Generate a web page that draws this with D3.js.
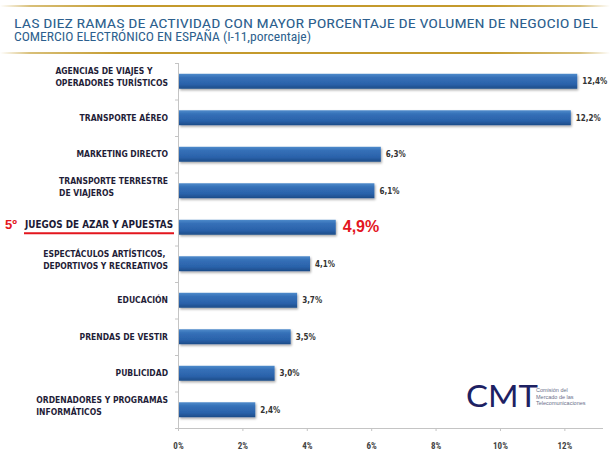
<!DOCTYPE html>
<html><head><meta charset="utf-8">
<script src="https://cdn.jsdelivr.net/npm/d3@7"></script>
<style>
html,body{margin:0;padding:0;background:#fff;}
svg{display:block;}
</style></head>
<body>
<script>
const titleLines = ["LAS DIEZ RAMAS DE ACTIVIDAD CON MAYOR PORCENTAJE DE VOLUMEN DE NEGOCIO DEL",
                    "COMERCIO ELECTRÓNICO EN ESPAÑA (I-11,porcentaje)"];
const categories = [
  ["AGENCIAS DE VIAJES Y","OPERADORES TURÍSTICOS"],
  ["TRANSPORTE AÉREO"],
  ["MARKETING DIRECTO"],
  ["TRANSPORTE TERRESTRE","DE VIAJEROS"],
  ["JUEGOS DE AZAR Y APUESTAS"],
  ["ESPECTÁCULOS ARTÍSTICOS,","DEPORTIVOS Y RECREATIVOS"],
  ["EDUCACIÓN"],
  ["PRENDAS DE VESTIR"],
  ["PUBLICIDAD"],
  ["ORDENADORES Y PROGRAMAS","INFORMÁTICOS"]
];
const values = [12.4,12.2,6.3,6.1,4.9,4.1,3.7,3.5,3.0,2.4];
const tickValues = [0,2,4,6,8,10,12];
const highlightIndex = 4;
const highlightRank = "5º";
const logoText = "CMT";
const logoSub = ["Comisión del","Mercado de las","Telecomunicaciones"];

const W=610,H=460;
const svg=d3.select("body").append("svg").attr("width",W).attr("height",H);
const defs=svg.append("defs");
const gold=defs.append("linearGradient").attr("id","gold").attr("x1","0").attr("x2","1");
[[0,"#ffffff"],[0.05,"#d8bf78"],[0.2,"#c49a2c"],[0.8,"#c49a2c"],[0.95,"#d8bf78"],[1,"#ffffff"]]
 .forEach(([o,c])=>gold.append("stop").attr("offset",o).attr("stop-color",c));
const bg=defs.append("linearGradient").attr("id","barg").attr("x1","0").attr("x2","0").attr("y1","0").attr("y2","1");
[[0,"#4f8bcb"],[0.25,"#3570b8"],[0.7,"#2a62aa"],[1,"#1d4c88"]]
 .forEach(([o,c])=>bg.append("stop").attr("offset",o).attr("stop-color",c));
const sh=defs.append("filter").attr("id","sh").attr("x","-5%").attr("y","-30%").attr("width","110%").attr("height","170%");
sh.append("feDropShadow").attr("dx",1).attr("dy",1.5).attr("stdDeviation",1).attr("flood-color","#000").attr("flood-opacity",0.35);

// gold rules
svg.append("rect").attr("x",0).attr("y",5).attr("width",W).attr("height",2).attr("fill","url(#gold)");
svg.append("rect").attr("x",0).attr("y",52).attr("width",W).attr("height",2).attr("fill","url(#gold)");

// title
const tFont='"Liberation Sans Narrow","Arial Narrow","Roboto Condensed","DejaVu Sans Condensed",sans-serif';
const titleW=[584,297];
titleLines.forEach((t,i)=>{
  svg.append("text").attr("x",14).attr("y",28+i*13).text(t)
    .attr("font-family",tFont).attr("font-size",13).attr("fill","#2d5f8e")
    .attr("textLength",titleW[i]).attr("lengthAdjust","spacingAndGlyphs");
});

const x=d3.scaleLinear().domain([0,13.2]).range([178,603]);
const y=d3.scaleBand().domain(d3.range(values.length)).range([63,428]).paddingInner(0.59).paddingOuter(0.295);

// axes
const gx=svg.append("g").attr("transform","translate(0,428)")
  .call(d3.axisBottom(x).tickValues(tickValues).tickSize(3).tickPadding(12).tickFormat(d=>d+"%"));
gx.select(".domain").attr("stroke","#c4c4c4").attr("d","M178,0.5H603");
gx.selectAll(".tick line").attr("stroke","#c4c4c4");
gx.selectAll(".tick text").attr("font-family",tFont).attr("font-weight","bold").attr("font-size",9).attr("fill","#444");

const step=y.step();
const gy=svg.append("g");
gy.append("line").attr("x1",178.5).attr("x2",178.5).attr("y1",63).attr("y2",428).attr("stroke","#c4c4c4");
gy.selectAll("line.t").data(d3.range(values.length+1)).join("line").attr("class","t")
  .attr("x1",175).attr("x2",178).attr("y1",i=>63+i*step+0.5).attr("y2",i=>63+i*step+0.5).attr("stroke","#c4c4c4");

// bars
svg.append("g").selectAll("rect").data(values).join("rect")
  .attr("x",x(0)+1).attr("y",(d,i)=>y(i)).attr("height",y.bandwidth())
  .attr("width",d=>x(d)-x(0)-1).attr("fill","url(#barg)").attr("filter","url(#sh)");

// value labels
const lFont='"Liberation Sans Narrow","Arial Narrow","DejaVu Sans Condensed",sans-serif';
svg.append("g").selectAll("text").data(values).join("text")
  .attr("x",(d,i)=>x(d)+(i===highlightIndex?7:5)).attr("y",(d,i)=>y(i)+y.bandwidth()/2)
  .text(d=>d.toFixed(1).replace(".",",")+"%")
  .attr("font-family",(d,i)=>i===highlightIndex?'"Liberation Sans","Arial",sans-serif':lFont)
  .attr("font-weight","bold")
  .attr("font-size",(d,i)=>i===highlightIndex?16:8)
  .attr("fill",(d,i)=>i===highlightIndex?"#e3161e":"#333")
  .attr("dy",(d,i)=>i===highlightIndex?"0.28em":"0.35em");

// category labels
const cg=svg.append("g");
categories.forEach((lines,i)=>{
  const cy=y(i)+y.bandwidth()/2;
  if(i===highlightIndex){
    cg.append("text").attr("x",25).attr("y",cy+1)
      .attr("font-family",lFont).attr("font-weight","bold").attr("font-size",11).attr("fill","#1c1a36")
      .attr("textLength",148).attr("lengthAdjust","spacingAndGlyphs").text(lines[0]);
    cg.append("rect").attr("x",24).attr("y",cy+5).attr("width",150).attr("height",2).attr("fill","#e3161e");
    cg.append("text").attr("x",5).attr("y",cy+1.5).attr("font-family",'"Liberation Sans","Arial",sans-serif')
      .attr("font-weight","bold").attr("font-size",13).attr("fill","#e3161e").text(highlightRank);
    return;
  }
  const n=lines.length;
  const off=n>1?-4:0;
  const ts=lines.map((s,j)=>cg.append("text").attr("y",cy+off+(j-(n-1)/2)*12).attr("dy","0.35em")
    .attr("font-family",lFont).attr("font-weight","bold").attr("font-size",8.5).attr("fill","#1f1d38").text(s));
  const mw=d3.max(ts,t=>t.node().getComputedTextLength());
  ts.forEach(t=>t.attr("x",168-mw));
});

// logo
svg.append("text").attr("x",466).attr("y",407).text(logoText)
  .attr("font-family",'Lato,"Open Sans",sans-serif').attr("font-size",31).attr("fill","#1d2163")
  .attr("textLength",72).attr("lengthAdjust","spacingAndGlyphs");
logoSub.forEach((s,i)=>svg.append("text").attr("x",536).attr("y",392+i*6.6).text(s)
  .attr("font-family",'"Liberation Sans",sans-serif').attr("font-size",5.5).attr("fill","#6a6f8a"));
</script>
</body></html>
